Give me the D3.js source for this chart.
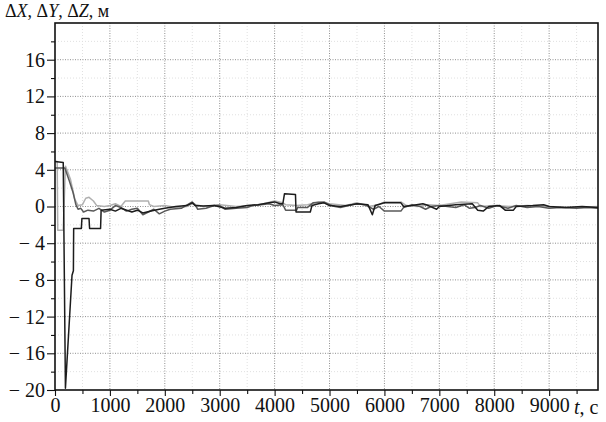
<!DOCTYPE html>
<html>
<head>
<meta charset="utf-8">
<script src="https://cdn.jsdelivr.net/npm/d3@7"></script>
<style>
  body { margin: 0; background: #fff; }
  svg text { font-family: "Liberation Serif", "Times New Roman", Times, serif; }
</style>
</head>
<body>
<div id="chart"></div>
<script>
// data: [t, value] pairs, t in seconds, value in metres
var seriesX = [[0,4.9],[150,4.8],[190,-19.8],[310,-7.5],[335,-7.0],[340,-2.4],[480,-2.4],[490,-1.3],[620,-1.3],[630,-2.4],[830,-2.4],[840,-0.4],[1000,-0.3],[1100,-0.5],[1200,-0.2],[1400,-0.6],[1500,-0.4],[1600,-0.7],[1750,-0.5],[1900,-0.3],[2000,-0.2],[2200,0],[2400,0.1],[2500,0.4],[2550,0.1],[2700,0.05],[2900,0.1],[3100,-0.2],[3300,-0.1],[3500,0.1],[3700,0.2],[3900,0.4],[4000,0.5],[4100,0.3],[4150,0.3],[4180,1.4],[4380,1.3],[4390,-0.6],[4650,-0.6],[4680,0.1],[4800,0.3],[4900,0.4],[5000,0.1],[5200,0],[5400,0.2],[5500,0.3],[5700,0.2],[5780,-0.9],[5830,0.1],[6000,0.4],[6300,0.4],[6350,0],[6500,0.1],[6700,0.3],[6800,0.1],[6950,-0.3],[7000,0],[7300,0.2],[7600,0.3],[7700,-0.4],[7800,-0.5],[7900,0],[8100,0.1],[8200,-0.4],[8350,-0.4],[8400,0],[8700,0.1],[8900,0.2],[9000,0],[9300,-0.1],[9600,0],[9890,-0.1]];

var seriesY = [[0,4.2],[180,4.2],[260,2.8],[330,1.5],[380,0.2],[420,-0.3],[470,-0.2],[520,-0.6],[600,-0.4],[700,-0.5],[800,-0.2],[900,-0.6],[1000,-0.4],[1100,0.1],[1200,-0.1],[1300,-0.5],[1400,-0.3],[1500,-0.2],[1600,-0.9],[1700,-0.6],[1800,-0.3],[1900,-0.8],[2000,-0.5],[2100,-0.3],[2300,-0.2],[2500,0.5],[2550,0.2],[2600,-0.3],[2750,-0.2],[2900,0.1],[3000,0.1],[3100,-0.3],[3300,-0.2],[3500,-0.1],[3600,0.1],[3750,0.2],[3900,0.3],[4000,0.1],[4150,0.2],[4200,-0.4],[4400,-0.4],[4420,-0.1],[4600,-0.1],[4700,0.4],[4900,0.5],[5000,0.2],[5100,0],[5200,-0.1],[5350,0.1],[5500,0.3],[5650,0.2],[5800,-0.3],[5900,0],[6000,-0.5],[6300,-0.5],[6350,-0.1],[6500,0.2],[6650,0],[6750,-0.3],[6850,0],[7000,0.1],[7300,-0.1],[7450,0.2],[7550,-0.2],[7650,-0.1],[7750,0.1],[7900,-0.2],[8050,0.1],[8250,-0.2],[8400,0.1],[8600,-0.1],[8800,0],[9000,-0.2],[9200,-0.1],[9500,-0.2],[9700,-0.1],[9890,-0.2]];

var seriesZ = [[0,4.9],[40,4.9],[50,-2.6],[150,-2.6],[190,4.4],[280,3.0],[360,0.8],[420,0.1],[500,0.2],[560,0.9],[620,1.0],[700,0.6],[760,0.1],[900,0],[1000,0.1],[1100,0.3],[1200,0],[1280,0.6],[1700,0.6],[1720,0.2],[1800,0],[2000,0.1],[2200,-0.1],[2400,0],[2500,0.3],[2700,0],[3000,0.2],[3300,0],[3600,0.1],[3800,0.3],[4000,0.6],[4150,0.4],[4200,0.2],[4400,0.1],[4600,0.2],[4800,0.5],[5000,0.3],[5300,0.1],[5500,0.4],[5700,0],[5900,0.2],[6000,0.5],[6300,0.5],[6400,0.1],[6600,0],[6800,0.2],[7000,0.1],[7400,0.5],[7700,0.4],[7750,0],[8000,0.1],[8300,0],[8600,0.1],[9000,0],[9400,-0.1],[9890,0]];

var xTicks = [0,1000,2000,3000,4000,5000,6000,7000,8000,9000];
var yTicks = [-20,-16,-12,-8,-4,0,4,8,12,16];

var margin = {top: 23, right: 8, bottom: 32, left: 55},
    width = 606 - margin.left - margin.right,
    height = 422 - margin.top - margin.bottom;

var x = d3.scaleLinear().domain([0, 9890]).range([0, width]);
var y = d3.scaleLinear().domain([-20, 20]).range([height, 0]);

var svg = d3.select("#chart").append("svg")
    .attr("width", 606)
    .attr("height", 422);

var g = svg.append("g")
    .attr("transform", "translate(" + margin.left + "," + margin.top + ")");

// faint minor grid
g.append("g").selectAll("line")
    .data(d3.range(500, 9890, 1000))
  .enter().append("line")
    .attr("x1", function(d) { return x(d); }).attr("x2", function(d) { return x(d); })
    .attr("y1", 0).attr("y2", height)
    .attr("stroke", "#e0e0e0").attr("stroke-dasharray", "1,2");
g.append("g").selectAll("line")
    .data(d3.range(-18, 20, 4))
  .enter().append("line")
    .attr("y1", function(d) { return y(d); }).attr("y2", function(d) { return y(d); })
    .attr("x1", 0).attr("x2", width)
    .attr("stroke", "#e0e0e0").attr("stroke-dasharray", "1,2");

// major grid
g.append("g").selectAll("line")
    .data(xTicks.slice(1))
  .enter().append("line")
    .attr("x1", function(d) { return x(d); }).attr("x2", function(d) { return x(d); })
    .attr("y1", 0).attr("y2", height)
    .attr("stroke", "#8f8f8f").attr("stroke-dasharray", "1,1.5");
g.append("g").selectAll("line")
    .data(yTicks.slice(1))
  .enter().append("line")
    .attr("y1", function(d) { return y(d); }).attr("y2", function(d) { return y(d); })
    .attr("x1", 0).attr("x2", width)
    .attr("stroke", "#8f8f8f").attr("stroke-dasharray", "1,1.5");

// lines
var line = d3.line()
    .x(function(d) { return x(d[0]); })
    .y(function(d) { return y(d[1]); });

[[seriesZ, "#b0b0b0"], [seriesY, "#5a5a5a"], [seriesX, "#1c1c1c"]].forEach(function(s) {
  g.append("path")
      .datum(s[0])
      .attr("fill", "none")
      .attr("stroke", s[1])
      .attr("stroke-width", 1.5)
      .attr("stroke-linejoin", "round")
      .attr("d", line);
});

// minor ticks
g.append("g")
    .attr("transform", "translate(0," + height + ")")
    .call(d3.axisBottom(x).tickValues(d3.range(500, 9890, 1000)).tickSize(4).tickFormat(""))
    .call(function(a) { a.select(".domain").remove(); });
g.append("g")
    .call(d3.axisLeft(y).tickValues(d3.range(-18, 20, 4)).tickSize(4).tickFormat(""))
    .call(function(a) { a.select(".domain").remove(); });

// major axes
var xa = g.append("g")
    .attr("transform", "translate(0," + height + ")")
    .call(d3.axisBottom(x).tickValues(xTicks).tickSize(6).tickPadding(2)
      .tickFormat(function(d) { return d; }));
var ya = g.append("g")
    .call(d3.axisLeft(y).tickValues(yTicks).tickSize(8).tickPadding(2)
      .tickFormat(function(d) { return d < 0 ? "\u2212 " + (-d) : d; }));

[xa, ya].forEach(function(a) {
  a.attr("font-family", null).attr("font-size", 20);
  a.select(".domain").remove();
  a.selectAll("text")
      .attr("font-size", 20)
      .attr("fill", "#111");
});
g.selectAll(".tick line").attr("stroke", "#111").attr("stroke-width", 1.1);

// frame
g.append("rect")
    .attr("width", width)
    .attr("height", height)
    .attr("fill", "none")
    .attr("stroke", "#111")
    .attr("stroke-width", 1.6);

// axis titles
var title = svg.append("text")
    .attr("x", 5)
    .attr("y", 17)
    .attr("font-size", 18)
    .attr("fill", "#111");
title.append("tspan").text("\u0394");
title.append("tspan").style("font-style", "italic").text("X");
title.append("tspan").text(", \u0394");
title.append("tspan").style("font-style", "italic").text("Y");
title.append("tspan").text(", \u0394");
title.append("tspan").style("font-style", "italic").text("Z");
title.append("tspan").text(", \u043c");

var xt = svg.append("text")
    .attr("x", 574)
    .attr("y", 414)
    .attr("font-size", 20)
    .attr("fill", "#111");
xt.append("tspan").style("font-style", "italic").text("t");
xt.append("tspan").text(", c");
</script>
</body>
</html>
